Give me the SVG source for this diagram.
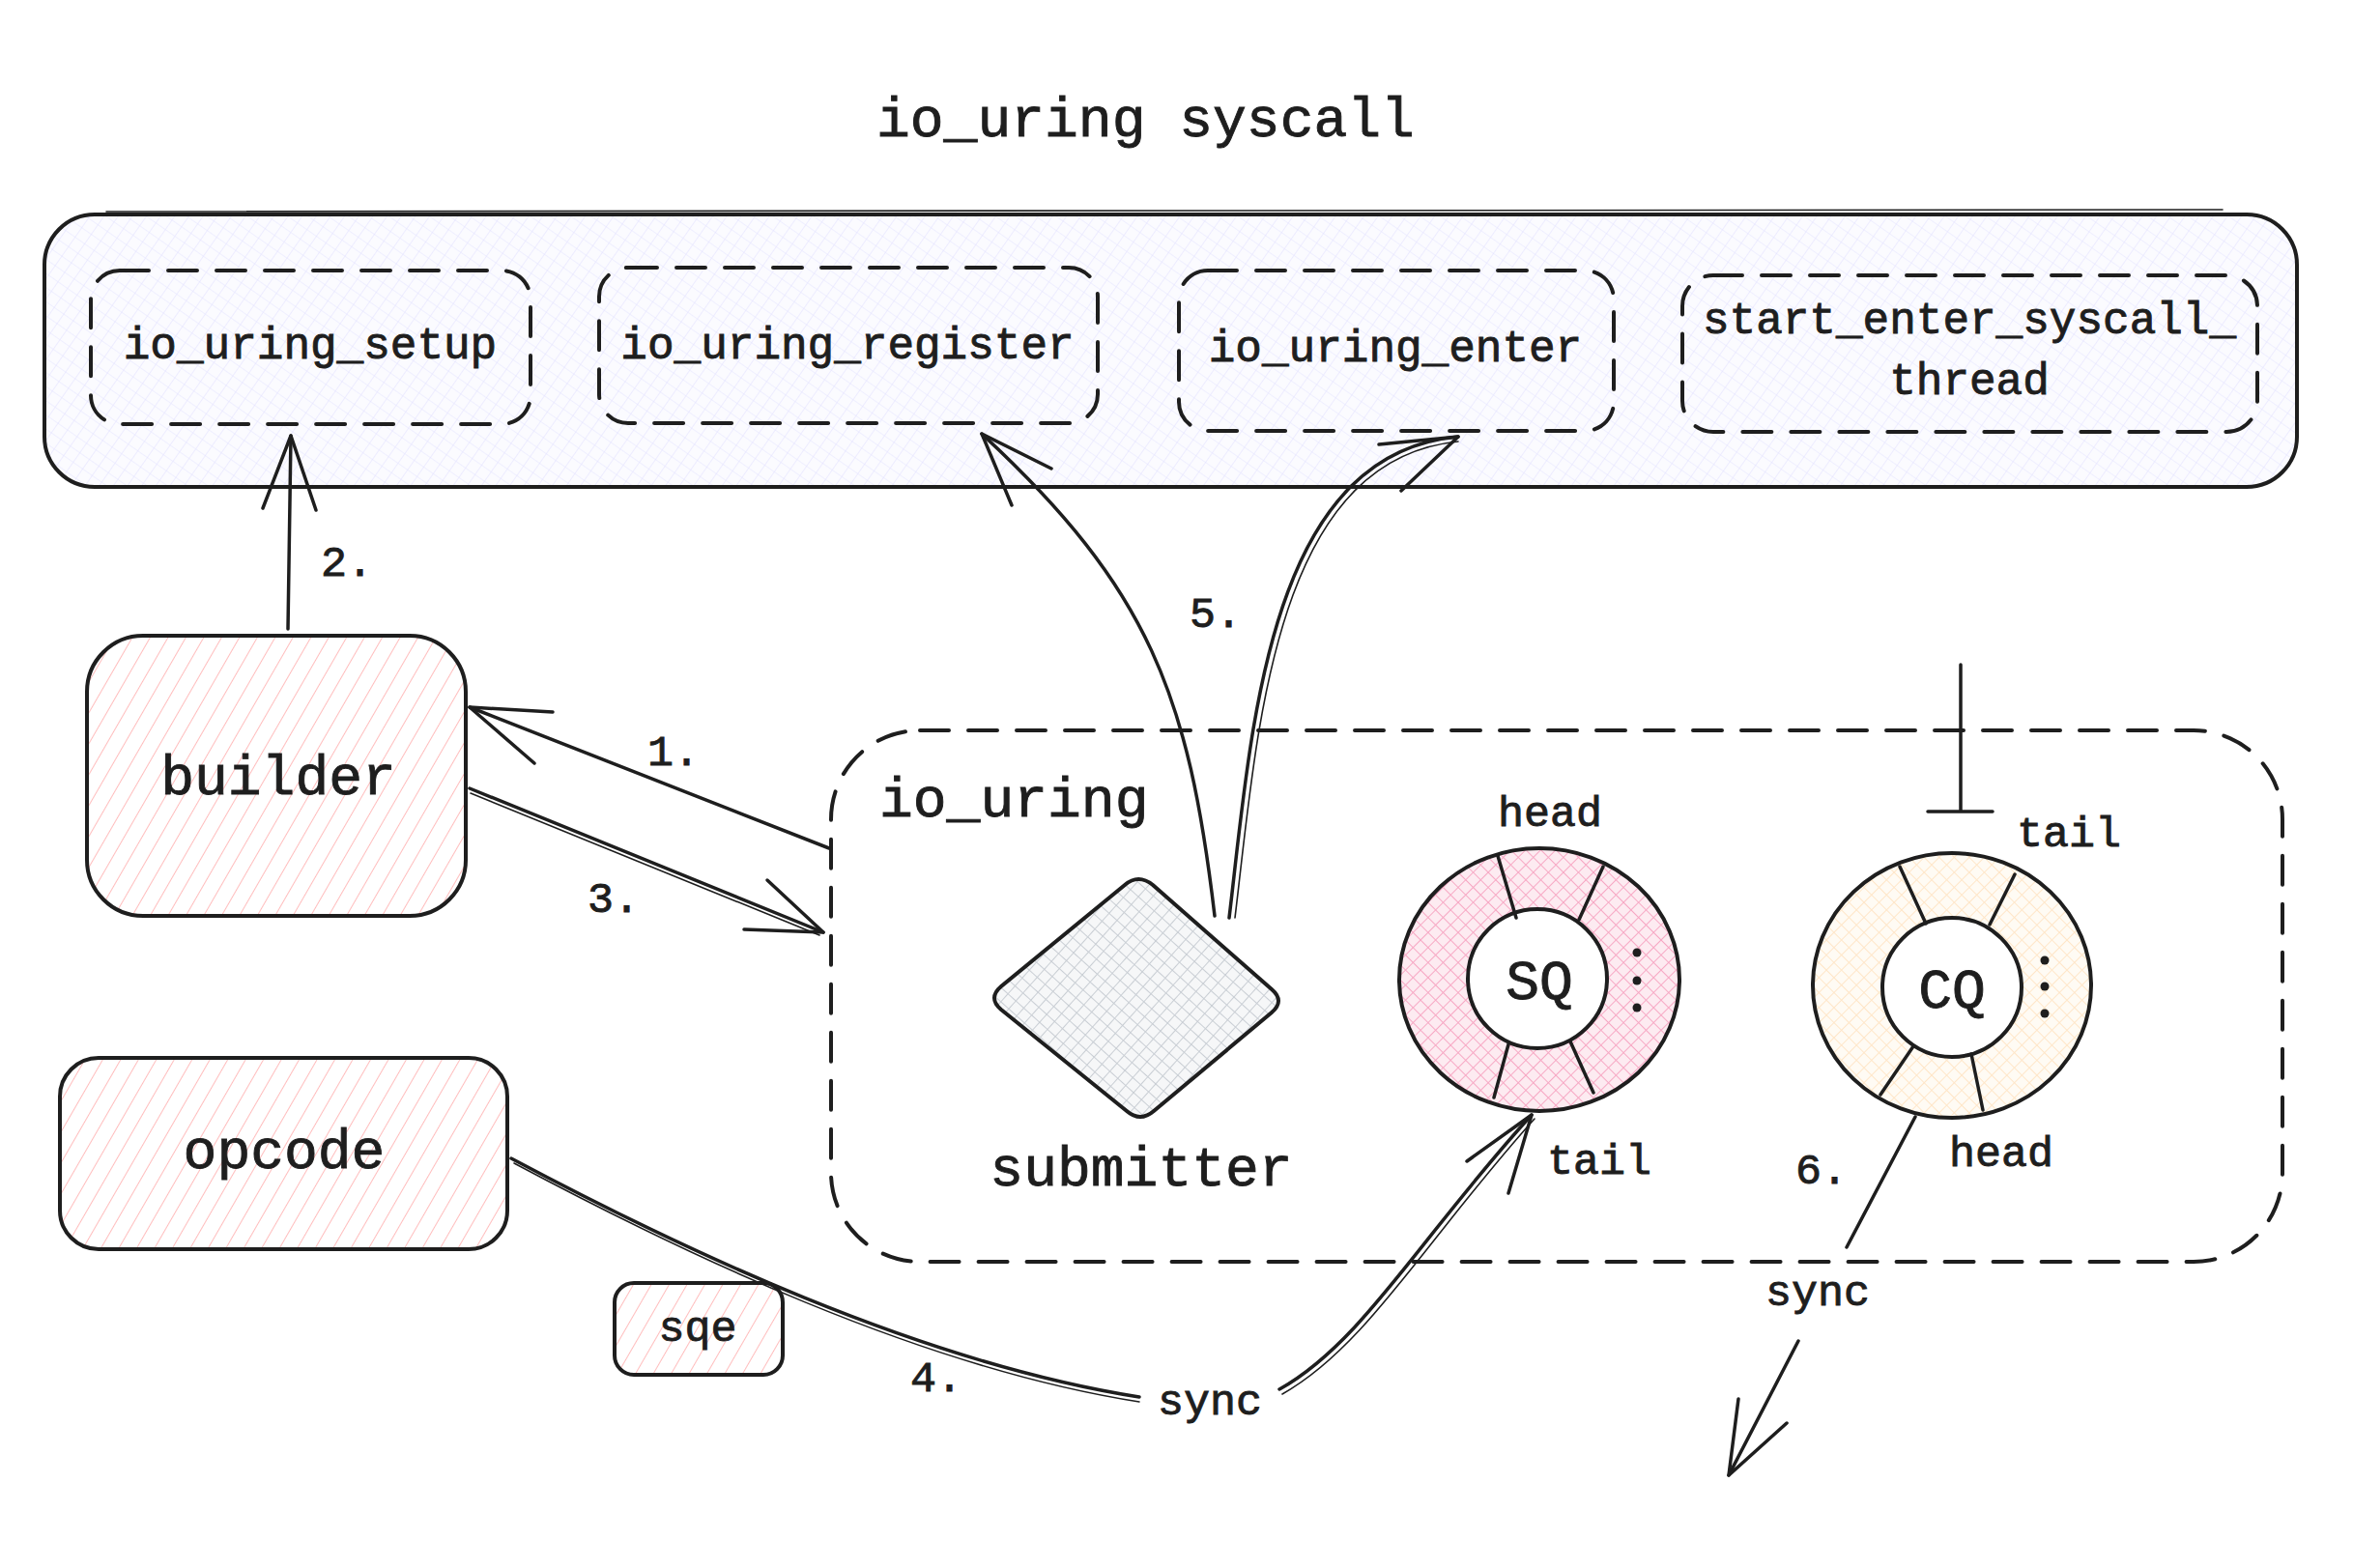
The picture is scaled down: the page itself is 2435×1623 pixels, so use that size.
<svg xmlns="http://www.w3.org/2000/svg" width="2435" height="1623" viewBox="0 0 2435 1623">
<defs>
  <pattern id="hLav" width="12" height="12" patternUnits="userSpaceOnUse" patternTransform="rotate(35)">
    <rect width="12" height="12" fill="#fbfbff"/>
    <path d="M0 0V12M0 0H12" stroke="#e4e3ff" stroke-width="1.2"/>
  </pattern>
  <pattern id="hPink" width="16" height="16" patternUnits="userSpaceOnUse" patternTransform="rotate(30)">
    <rect width="16" height="16" fill="#ffffff"/>
    <path d="M0 0V16" stroke="#ffbdbd" stroke-width="2"/>
  </pattern>
  <pattern id="hGray" width="11" height="11" patternUnits="userSpaceOnUse" patternTransform="rotate(42)">
    <rect width="11" height="11" fill="#f6f7f8"/>
    <path d="M0 0V11M0 0H11" stroke="#c9ced4" stroke-width="2"/>
  </pattern>
  <pattern id="hRose" width="11" height="11" patternUnits="userSpaceOnUse" patternTransform="rotate(45)">
    <rect width="11" height="11" fill="#fdebf1"/>
    <path d="M0 0V11M0 0H11" stroke="#f7a8c4" stroke-width="2"/>
  </pattern>
  <pattern id="hPeach" width="11" height="11" patternUnits="userSpaceOnUse" patternTransform="rotate(45)">
    <rect width="11" height="11" fill="#fffbf4"/>
    <path d="M0 0V11M0 0H11" stroke="#ffe6c8" stroke-width="2"/>
  </pattern>
</defs>
<style>
  .t{font-family:"Liberation Mono","DejaVu Sans Mono",monospace;fill:#1e1e1e;stroke:#1e1e1e;stroke-width:0.9}
  .big{font-size:58px}
  .mid{font-size:46px}
  .sm{font-size:45px}
  .shape{stroke:#1e1e1e;stroke-width:4;stroke-linejoin:round;stroke-linecap:round}
  .dash{fill:none;stroke:#1e1e1e;stroke-width:4;stroke-dasharray:30 20;stroke-linecap:round}
  .ln{fill:none;stroke:#1e1e1e;stroke-width:3.5;stroke-linecap:round;stroke-linejoin:round}
  .ln2{fill:none;stroke:#1e1e1e;stroke-width:1.6;stroke-linecap:round}
</style>
<rect width="2435" height="1623" fill="#ffffff"/>

<g id="title">
  <text class="t big" x="907" y="141">io_uring syscall</text>
</g>

<g id="syscall-box">
  <rect class="shape" x="46" y="222" width="2331" height="282" rx="52" fill="url(#hLav)"/>
  <path class="ln2" d="M110 219 L2300 217"/>
</g>

<g id="io_uring_setup">
  <rect class="dash" x="94" y="280" width="455" height="159" rx="30"/>
  <text class="t mid" x="321" y="371" text-anchor="middle">io_uring_setup</text>
</g>
<g id="io_uring_register">
  <rect class="dash" x="620" y="277" width="516" height="161" rx="30"/>
  <text class="t mid" x="877" y="371" text-anchor="middle">io_uring_register</text>
</g>
<g id="io_uring_enter">
  <rect class="dash" x="1220" y="280" width="450" height="166" rx="30"/>
  <text class="t mid" x="1444" y="374" text-anchor="middle">io_uring_enter</text>
</g>
<g id="start_enter_syscall_thread">
  <rect class="dash" x="1741" y="285" width="595" height="162" rx="32"/>
  <text class="t mid" x="2038" y="345" text-anchor="middle">start_enter_syscall_</text>
  <text class="t mid" x="2038" y="408" text-anchor="middle">thread</text>
</g>

<g id="builder">
  <rect class="shape" x="90" y="658" width="392" height="290" rx="58" fill="url(#hPink)"/>
  <text class="t big" x="288" y="822" text-anchor="middle">builder</text>
</g>

<g id="opcode">
  <rect class="shape" x="62" y="1095" width="463" height="198" rx="40" fill="url(#hPink)"/>
  <text class="t big" x="294" y="1209" text-anchor="middle">opcode</text>
</g>

<g id="sqe">
  <rect class="shape" x="636" y="1328" width="174" height="95" rx="20" fill="url(#hPink)"/>
  <text class="t sm" x="722" y="1388" text-anchor="middle">sqe</text>
</g>

<g id="io_uring">
  <rect class="dash" x="860" y="756" width="1502" height="550" rx="92"/>
  <text class="t big" x="910" y="845">io_uring</text>
</g>

<g id="submitter">
  <path class="shape" fill="url(#hGray)" d="M1193 916 L1316 1024 Q1330 1036 1316 1048 L1194 1150 Q1180 1162 1166 1150 L1036 1045 Q1022 1033 1036 1021 L1164 916 Q1178 904 1193 916 Z"/>
  <text class="t big" x="1181" y="1227" text-anchor="middle">submitter</text>
</g>

<g id="SQ">
  <ellipse class="shape" cx="1593" cy="1014" rx="145" ry="136" fill="url(#hRose)"/>
  <circle class="shape" cx="1591" cy="1013" r="72" fill="#ffffff"/>
  <path class="ln" d="M1550 886 L1569 950 M1659 897 L1634 952 M1561 1081 L1546 1136 M1625 1078 L1649 1131"/>
  <circle cx="1694" cy="986" r="4.5" fill="#1e1e1e"/>
  <circle cx="1694" cy="1015" r="4.5" fill="#1e1e1e"/>
  <circle cx="1694" cy="1043" r="4.5" fill="#1e1e1e"/>
  <text class="t big" x="1593" y="1034" text-anchor="middle">SQ</text>
  <text class="t sm" x="1550" y="855">head</text>
  <text class="t sm" x="1601" y="1215">tail</text>
</g>

<g id="CQ">
  <ellipse class="shape" cx="2020" cy="1020" rx="144" ry="137" fill="url(#hPeach)"/>
  <circle class="shape" cx="2020" cy="1022" r="72" fill="#ffffff"/>
  <path class="ln" d="M1966 897 L1993 956 M2085 905 L2059 957 M1980 1083 L1946 1133 M2040 1091 L2052 1149"/>
  <circle cx="2116" cy="994" r="4.5" fill="#1e1e1e"/>
  <circle cx="2116" cy="1021" r="4.5" fill="#1e1e1e"/>
  <circle cx="2116" cy="1049" r="4.5" fill="#1e1e1e"/>
  <text class="t big" x="2020" y="1043" text-anchor="middle">CQ</text>
  <text class="t sm" x="2087" y="876">tail</text>
  <text class="t sm" x="2017" y="1207">head</text>
</g>

<g id="connectors">
  <!-- 2. builder -> io_uring_setup -->
  <path class="ln" d="M298 651 L301 451"/>
  <path class="ln" d="M272 526 L301 451 L327 528"/>
  <text class="t sm" x="332" y="596">2.</text>

  <!-- 1. io_uring -> builder -->
  <path class="ln" d="M858 878 L486 732"/>
  <path class="ln" d="M572 737 L486 732 L553 790"/>
  <text class="t sm" x="670" y="792">1.</text>

  <!-- 3. builder -> io_uring -->
  <path class="ln" d="M486 816 L852 965"/>
  <path class="ln2" d="M487 821 L848 968"/>
  <path class="ln" d="M794 911 L852 965 L770 962"/>
  <text class="t sm" x="608" y="944">3.</text>

  <!-- 5. submitter -> io_uring_register / io_uring_enter -->
  <path class="ln" d="M1257 948 C1230 720 1190 610 1016 449"/>
  <path class="ln" d="M1047 523 L1016 449 L1088 485"/>
  <path class="ln" d="M1272 950 C1295 760 1310 470 1509 452"/>
  <path class="ln2" d="M1278 950 C1301 762 1316 476 1509 457"/>
  <path class="ln" d="M1427 460 L1509 452 L1450 508"/>
  <text class="t sm" x="1231" y="649">5.</text>

  <!-- 4. opcode -> SQ tail (sync) -->
  <path class="ln" d="M529 1199 C700 1290 950 1410 1179 1446"/>
  <path class="ln2" d="M532 1204 C703 1295 950 1415 1179 1451"/>
  <path class="ln" d="M1324 1438 C1410 1390 1470 1280 1585 1154"/>
  <path class="ln2" d="M1327 1443 C1414 1394 1475 1284 1588 1158"/>
  <path class="ln" d="M1518 1202 L1585 1154 L1561 1235"/>
  <text class="t sm" x="942" y="1440">4.</text>
  <text class="t sm" x="1198" y="1464">sync</text>

  <!-- 6. CQ head -> out (sync) -->
  <path class="ln" d="M1982 1156 L1911 1291"/>
  <path class="ln" d="M1861 1388 L1789 1527"/>
  <path class="ln" d="M1799 1448 L1789 1527 L1849 1473"/>
  <text class="t sm" x="1858" y="1225">6.</text>
  <text class="t sm" x="1827" y="1351">sync</text>

  <!-- bar connector to CQ tail -->
  <path class="ln" d="M2029 688 L2029 840 M1995 840 L2062 840"/>
</g>
</svg>
